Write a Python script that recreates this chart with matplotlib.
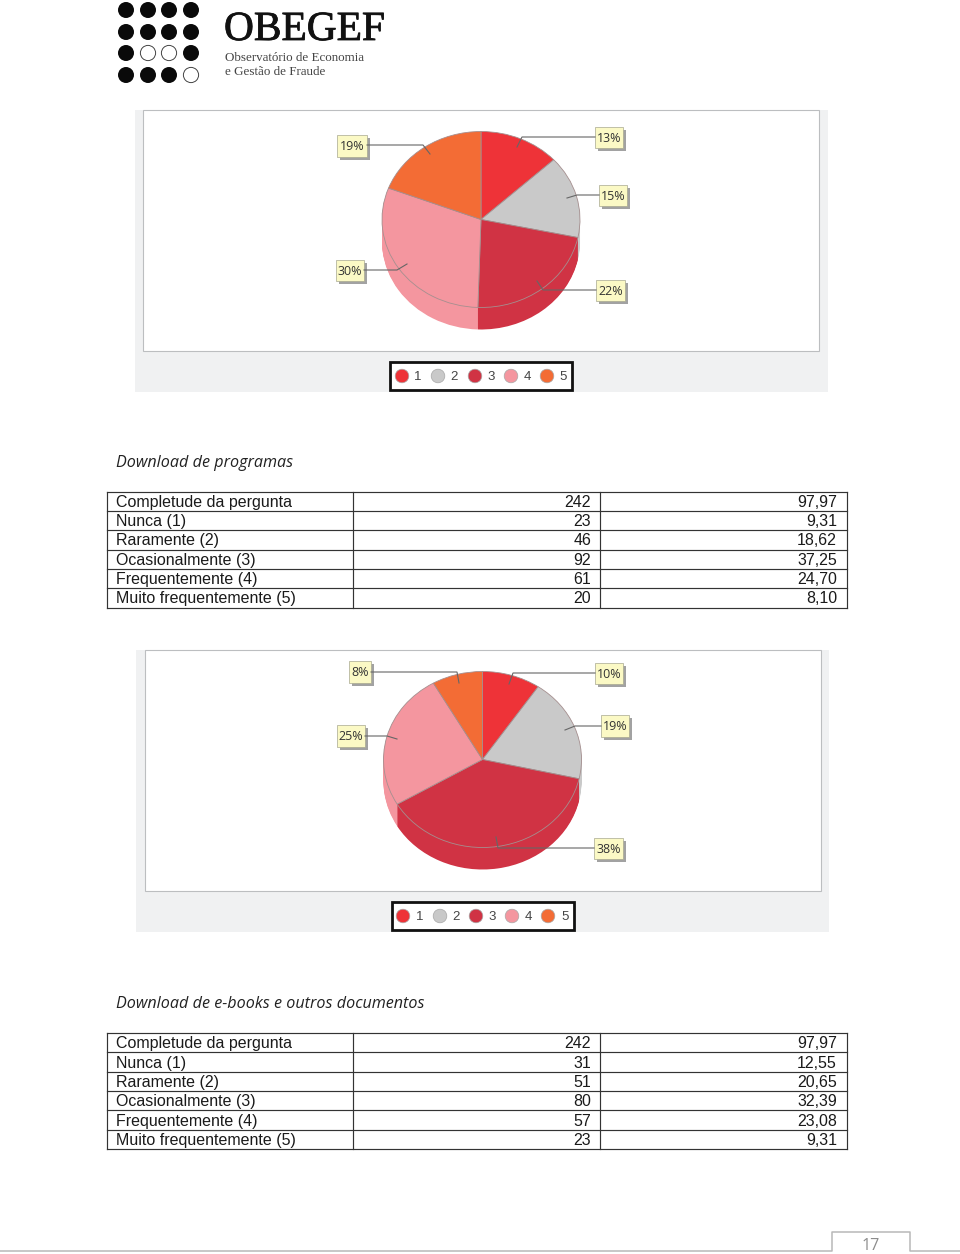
#!/usr/bin/env python3

import matplotlib
matplotlib.use("Agg")
import matplotlib.pyplot as plt
import matplotlib.patheffects as pe
from matplotlib.patches import Circle, Rectangle

W = 960
H = 1254

# data
legend_labels = ["1", "2", "3", "4", "5"]
pie1_pct = [13, 15, 22, 30, 19]
pie2_pct = [10, 19, 38, 25, 8]
pie2_counts = [23, 46, 92, 61, 20]

row_labels = ["Completude da pergunta", "Nunca (1)", "Raramente (2)",
              "Ocasionalmente (3)", "Frequentemente (4)", "Muito frequentemente (5)"]
table1_counts = ["242", "23", "46", "92", "61", "20"]
table1_pcts = ["97,97", "9,31", "18,62", "37,25", "24,70", "8,10"]
table2_counts = ["242", "31", "51", "80", "57", "23"]
table2_pcts = ["97,97", "12,55", "20,65", "32,39", "23,08", "9,31"]

colors = ["#ee3338", "#c9c9c9", "#d03344", "#f4969f", "#f36c35"]

# layout, all in pixels of the page
# callout box: x0, y0, x1, y1, then leader line points
pie1_callouts = [
    ((595, 127, 623, 148), [(595, 137), (522, 137), (517, 147)]),
    ((599, 185, 627, 206), [(599, 195), (577, 195), (567, 198)]),
    ((596, 280, 625, 301), [(596, 290), (543, 290), (537, 281)]),
    ((336, 260, 364, 281), [(364, 270), (397, 270), (407, 264)]),
    ((337, 135, 367, 157), [(367, 145), (423, 145), (430, 154)]),
]
pie2_callouts = [
    ((595, 663, 623, 684), [(595, 673), (513, 673), (509, 684)]),
    ((601, 715, 629, 737), [(601, 726), (575, 726), (565, 730)]),
    ((594, 838, 623, 859), [(594, 848), (498, 848), (496, 837)]),
    ((337, 725, 365, 747), [(365, 736), (387, 736), (397, 739)]),
    ((349, 661, 371, 683), [(371, 672), (457, 672), (459, 683)]),
]

fig = plt.figure(figsize=(W / 100, H / 100), dpi=100, facecolor="white")

bg = fig.add_axes([0, 0, 1, 1], zorder=0)
top = fig.add_axes([0, 0, 1, 1], zorder=2)
for a in (bg, top):
    a.set_xlim(0, W)
    a.set_ylim(H, 0)
    a.axis("off")


def draw_pie(values, cx, cy, rx, ry, depth):
    box = [(cx - rx) / W, 1 - (cy + ry + depth) / H, 2 * rx / W, (2 * ry + depth) / H]
    ax = fig.add_axes(box, zorder=1)
    ax.patch.set_alpha(0)
    # stack of 1px layers makes the side wall
    for k in range(depth, 0, -1):
        ax.pie(values, colors=colors, startangle=90, counterclock=False,
               center=(0, -k / ry), radius=1, wedgeprops={"linewidth": 0})
    ax.pie(values, colors=colors, startangle=90, counterclock=False,
           radius=1, wedgeprops={"linewidth": 0.6, "edgecolor": "#a58f8f"})
    ax.set_aspect("auto")
    ax.set_xlim(-1, 1)
    ax.set_ylim(-1 - depth / ry, 1)
    ax.axis("off")


def draw_panel(x0, y0, x1, y1, plot_x0, plot_x1, plot_y1):
    bg.add_patch(Rectangle((x0, y0), x1 - x0, y1 - y0, fc="#f0f1f2", ec="none"))
    bg.add_patch(Rectangle((plot_x0, y0), plot_x1 - plot_x0, plot_y1 - y0,
                           fc="white", ec="#bcbec0", lw=0.8))


def draw_callouts(values, callouts):
    for v, (b, pts) in zip(values, callouts):
        x0, y0, x1, y1 = b
        top.plot([p[0] for p in pts], [p[1] for p in pts], color="#666666", lw=0.8,
                 solid_joinstyle="miter")
        top.add_patch(Rectangle((x0 + 3, y0 + 3), x1 - x0, y1 - y0, fc="#a2a2a2", ec="none"))
        top.add_patch(Rectangle((x0, y0), x1 - x0, y1 - y0, fc="#fbf9c5", ec="#a8a890", lw=0.5))
        top.text((x0 + x1) / 2, (y0 + y1) / 2 + 1, "%d%%" % v, ha="center", va="center",
                 fontsize=9, family="Open Sans", color="#333333")


def draw_legend(x0, y0, x1, y1, marker_x, label_x, y):
    top.add_patch(Rectangle((x0, y0), x1 - x0, y1 - y0, fc="white", ec="#111111", lw=2))
    for lab, c, mx, lx in zip(legend_labels, colors, marker_x, label_x):
        top.add_patch(Circle((mx, y), 6.8, fc=c, ec="#a8a8a8", lw=0.5))
        top.text(lx, y + 0.7, lab, ha="center", va="center", fontsize=9.5,
                 family="Liberation Sans", color="#444444")


def draw_table(y0, counts, pcts):
    row_h = 19.35
    ys = [y0 + i * row_h for i in range(7)]
    for y in ys:
        top.plot([107, 846.5], [y, y], color="#333333", lw=0.85)
    for x in (107, 353, 600, 846.5):
        top.plot([x, x], [ys[0], ys[-1]], color="#333333", lw=0.85)
    for i, (lab, n, p) in enumerate(zip(row_labels, counts, pcts)):
        y = ys[i] + row_h / 2 + 1
        top.text(116, y, lab, ha="left", va="center", fontsize=11.55,
                 family="Liberation Sans", color="#1a1a1a")
        top.text(591, y, n, ha="right", va="center", fontsize=11.55,
                 family="Liberation Sans", color="#1a1a1a")
        top.text(837, y, p, ha="right", va="center", fontsize=11.55,
                 family="Liberation Sans", color="#1a1a1a")


# logo
dot_x = [126, 148, 169, 191]
dot_y = [10, 32, 53, 75]
hollow = [(2, 1), (2, 2), (3, 3)]
for r, y in enumerate(dot_y):
    for c, x in enumerate(dot_x):
        if (r, c) in hollow:
            top.add_patch(Circle((x, y), 7.6, fc="white", ec="#444444", lw=0.7))
        else:
            top.add_patch(Circle((x, y), 8, fc="#0a0a0a", ec="none"))
top.text(224, 40, "OBEGEF", ha="left", va="baseline", fontsize=29.8,
         family="Liberation Serif", color="#111111",
         path_effects=[pe.withStroke(linewidth=0.6, foreground="#111111")])
top.text(225, 61, "Observatório de Economia", ha="left", va="baseline", fontsize=9.4,
         family="Liberation Serif", color="#444444")
top.text(225, 75, "e Gestão de Fraude", ha="left", va="baseline", fontsize=9.4,
         family="Liberation Serif", color="#444444")

# first chart
draw_panel(135, 110, 828, 392, 143, 819, 351)
draw_pie(pie1_pct, 481, 219.5, 99, 88, 22)
draw_callouts(pie1_pct, pie1_callouts)
draw_legend(390, 362, 572, 390, [402, 438, 475, 511, 547], [418, 454, 491, 527, 563], 376)

top.text(116, 463, "Download de programas", ha="left", va="center", fontsize=11.65,
         family="Open Sans", style="italic", color="#222222")
draw_table(491.5, table1_counts, table1_pcts)

# second chart
draw_panel(136, 650, 829, 932, 145, 821, 891)
draw_pie(pie2_counts, 482.5, 759.5, 99, 88, 22)
draw_callouts(pie2_pct, pie2_callouts)
draw_legend(392, 902, 574, 930, [403, 440, 476, 512, 548], [420, 456, 492, 528, 565], 916)

top.text(116, 1004, "Download de e-books e outros documentos", ha="left", va="center",
         fontsize=11.65, family="Open Sans", style="italic", color="#222222")
draw_table(1033, table2_counts, table2_pcts)

# page number tab
top.plot([0, 832, 832, 910, 910, 960], [1251, 1251, 1232, 1232, 1251, 1251],
         color="#b8b8b8", lw=1.1)
top.text(871, 1246, "17", ha="center", va="center", fontsize=11.5,
         family="Open Sans", color="#8c8c8c")

fig.savefig("out.png", dpi=100)
